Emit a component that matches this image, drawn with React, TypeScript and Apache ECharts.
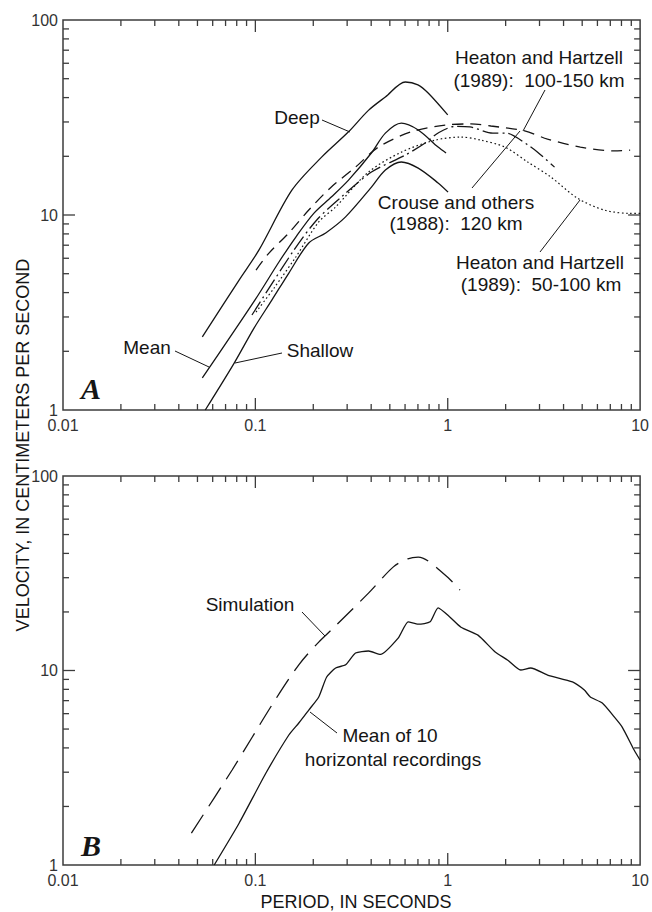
import React, { useEffect, useRef } from "react";
import * as echarts from "echarts";

// ---------- tick labels ----------
const xTickLabels = ["0.01", "0.1", "1", "10"];
const yTickLabels = ["1", "10", "100"];
const xMinorTicks = [0.02, 0.03, 0.04, 0.05, 0.06, 0.07, 0.08, 0.09, 0.2, 0.3, 0.4, 0.5, 0.6, 0.7, 0.8, 0.9, 2, 3, 4, 5, 6, 7, 8, 9];
const xMajorTicks = [0.1, 1];
const yMinorTicks = [2, 3, 4, 5, 6, 7, 8, 9, 20, 30, 40, 50, 60, 70, 80, 90];
const yMajorTicks = [10];

// ---------- Panel A ----------
const deepX = [0.053, 0.0823, 0.1043, 0.1548, 0.221, 0.305, 0.387, 0.474, 0.602, 0.7, 0.791, 1.0];
const deepY = [2.37, 4.64, 6.6, 13.4, 19.8, 26.7, 34.4, 40.3, 48.1, 46.5, 42.2, 32.6];

const meanX = [0.053, 0.0996, 0.1326, 0.1623, 0.2012, 0.249, 0.305, 0.401, 0.474, 0.574, 0.7025, 0.891, 0.98];
const meanY = [1.46, 3.67, 5.74, 7.71, 10.2, 12.4, 15.1, 20.8, 26.3, 29.6, 27.3, 22.3, 20.8];

const shallowX = [0.0549, 0.0776, 0.0984, 0.122, 0.1493, 0.1895, 0.2321, 0.2944, 0.4013, 0.4742, 0.5737, 0.7025, 0.891, 1.004];
const shallowY = [1.0, 1.74, 2.63, 3.67, 5.04, 7.19, 8.09, 9.78, 13.9, 17.0, 18.7, 17.4, 14.6, 13.1];

const hh150X = [0.1008, 0.1177, 0.1493, 0.1895, 0.246, 0.3317, 0.4362, 0.646, 0.969, 1.321, 1.676, 2.512, 3.304, 4.894, 7.337, 8.877];
const hh150Y = [5.22, 6.38, 8.09, 10.6, 13.8, 17.6, 22.3, 26.7, 28.9, 29.3, 28.6, 27.0, 24.5, 22.3, 21.3, 21.5];

const crouseX = [0.096, 0.1585, 0.2085, 0.2808, 0.4013, 0.602, 0.7636, 0.9, 1.1, 1.305, 1.716, 2.004, 2.603, 2.933, 3.591];
const crouseY = [3.07, 6.6, 9.43, 12.4, 16.6, 20.3, 23.4, 26.5, 28.5, 28.3, 26.3, 26.3, 22.9, 21.0, 17.6];

const hh100X = [0.1008, 0.125, 0.1623, 0.2135, 0.2614, 0.3873, 0.5737, 0.86, 1.172, 1.487, 1.981, 2.603, 3.423, 4.723, 6.514, 8.877, 10];
const hh100Y = [3.18, 4.22, 6.09, 9.21, 11.0, 16.6, 21.0, 24.2, 25.1, 24.2, 22.3, 18.7, 15.7, 12.2, 10.6, 10.2, 10.2];

// ---------- Panel B ----------
const simX = [0.0465, 0.0757, 0.122, 0.1682, 0.2135, 0.249, 0.3873, 0.5217, 0.62, 0.7025, 0.969, 1.158];
const simY = [1.46, 3.08, 6.65, 10.7, 14.0, 16.2, 25.0, 34.1, 37.5, 38.3, 31.0, 25.9];

const mean10X = [0.0611, 0.0823, 0.1135, 0.1493, 0.1682, 0.1895, 0.2135, 0.2348, 0.2614, 0.2944, 0.3317, 0.3873, 0.4467, 0.5535, 0.6234, 0.7025, 0.81, 0.891, 1.028, 1.172, 1.436, 1.758, 2.052, 2.395, 2.699, 3.304, 4.45, 5.13, 5.51, 6.36, 7.34, 8.07, 9.31, 10];
const mean10Y = [1.0, 1.64, 2.97, 4.66, 5.37, 6.26, 7.31, 9.26, 10.3, 10.7, 12.3, 12.6, 12.1, 14.7, 17.8, 17.3, 17.8, 21.0, 18.8, 16.7, 15.2, 12.5, 11.3, 10.06, 10.3, 9.48, 8.73, 7.93, 7.31, 6.8, 5.77, 5.12, 3.9, 3.46];

const zip = (xs: number[], ys: number[]) => xs.map((x, i) => [x, ys[i]]);

const INK = "#151515";
const AXIS = "#3c3c3c";
const LABEL_FONT = "'Liberation Sans Narrow', 'Arial Narrow', 'Liberation Sans', sans-serif";
const TEXT_FONT = "'Liberation Sans', Arial, sans-serif";

function tickData() {
  const items: number[][] = [];
  xMinorTicks.forEach((v) => { items.push([v, 1, 0, 6]); items.push([v, 100, 1, 6]); });
  xMajorTicks.forEach((v) => { items.push([v, 1, 0, 12]); items.push([v, 100, 1, 12]); });
  yMinorTicks.forEach((v) => { items.push([0.01, v, 2, 6]); items.push([10, v, 3, 6]); });
  yMajorTicks.forEach((v) => { items.push([0.01, v, 2, 12]); items.push([10, v, 3, 12]); });
  return items;
}

function labelFor(list: string[]) {
  return (v: number) => {
    const hit = list.find((l) => Math.abs(Math.log10(+l) - Math.log10(v)) < 1e-6);
    return hit ?? "";
  };
}

export default function App() {
  const ref = useRef<HTMLDivElement>(null);

  useEffect(() => {
    const chart = echarts.init(ref.current!, null, { renderer: "svg" });

    const xAxisBase = (gridIndex: number) => ({
      gridIndex,
      type: "log",
      logBase: 10,
      min: 0.01,
      max: 10,
      axisLine: { show: false },
      axisTick: { show: false },
      splitLine: { show: false },
      axisLabel: {
        formatter: labelFor(xTickLabels),
        fontSize: 16,
        lineHeight: 13,
        color: "#333",
        margin: 9,
        fontFamily: LABEL_FONT,
      },
    });
    const yAxisBase = (gridIndex: number) => ({
      gridIndex,
      type: "log",
      logBase: 10,
      min: 1,
      max: 100,
      axisLine: { show: false },
      axisTick: { show: false },
      splitLine: { show: false },
      axisLabel: {
        formatter: labelFor(yTickLabels),
        fontSize: 16,
        lineHeight: 13,
        color: "#333",
        margin: 5,
        fontFamily: LABEL_FONT,
      },
    });

    const lineSeries = (name: string, idx: number, data: number[][], type: any, smooth = 0.3, width = 1.3) => ({
      name,
      type: "line",
      xAxisIndex: idx,
      yAxisIndex: idx,
      data,
      showSymbol: false,
      smooth,
      silent: true,
      lineStyle: { color: INK, width, type },
    });

    const tickSeries = (idx: number) => ({
      type: "custom",
      xAxisIndex: idx,
      yAxisIndex: idx,
      data: tickData(),
      clip: false,
      silent: true,
      renderItem: (_p: any, api: any) => {
        const p = api.coord([api.value(0), api.value(1)]);
        const side = api.value(2);
        const len = api.value(3);
        let x2 = p[0];
        let y2 = p[1];
        if (side === 0) y2 -= len;
        else if (side === 1) y2 += len;
        else if (side === 2) x2 += len;
        else x2 -= len;
        return {
          type: "line",
          shape: { x1: p[0], y1: p[1], x2, y2 },
          style: { stroke: AXIS, lineWidth: 1.3 },
        };
      },
    });

    const txt = (text: string, x: number, y: number, align = "center", extra: any = {}) => ({
      type: "text",
      x,
      y,
      silent: true,
      style: {
        text,
        fill: INK,
        font: `19px ${TEXT_FONT}`,
        textAlign: align,
        textVerticalAlign: "middle",
        ...extra,
      },
    });
    const lead = (x1: number, y1: number, x2: number, y2: number) => ({
      type: "line",
      silent: true,
      shape: { x1, y1, x2, y2 },
      style: { stroke: INK, lineWidth: 1 },
    });

    const option: any = {
      animation: false,
      backgroundColor: "#fff",
      grid: [
        { left: 63, top: 20, width: 580, height: 390, show: true, borderColor: AXIS, borderWidth: 1.5, backgroundColor: "transparent" },
        { left: 63, top: 476, width: 580, height: 389, show: true, borderColor: AXIS, borderWidth: 1.5, backgroundColor: "transparent" },
      ],
      xAxis: [xAxisBase(0), xAxisBase(1)],
      yAxis: [yAxisBase(0), yAxisBase(1)],
      series: [
        tickSeries(0),
        tickSeries(1),
        lineSeries("Deep", 0, zip(deepX, deepY), "solid"),
        lineSeries("Mean", 0, zip(meanX, meanY), "solid"),
        lineSeries("Shallow", 0, zip(shallowX, shallowY), "solid"),
        lineSeries("Heaton and Hartzell (1989): 100-150 km", 0, zip(hh150X, hh150Y), [11, 7]),
        lineSeries("Crouse and others (1988): 120 km", 0, zip(crouseX, crouseY), [16, 4, 2, 4]),
        lineSeries("Heaton and Hartzell (1989): 50-100 km", 0, zip(hh100X, hh100Y), [1.6, 2.6], 0.3, 1.2),
        lineSeries("Simulation", 1, zip(simX, simY), [22, 10]),
        lineSeries("Mean of 10 horizontal recordings", 1, zip(mean10X, mean10Y), "solid", 0.2),
      ],
      graphic: [
        // Panel A annotations
        txt("Deep", 297, 117),
        lead(322, 120, 350, 132),
        txt("Mean", 147, 347),
        lead(175, 351, 209, 367),
        txt("Shallow", 320, 350),
        lead(235, 363, 282, 353),
        txt("Heaton and Hartzell", 539, 57),
        txt("(1989):  100-150 km", 539, 80),
        lead(545, 90, 523, 131),
        txt("Crouse and others", 456, 202),
        txt("(1988):  120 km", 456, 223),
        lead(472, 188, 520, 131),
        txt("Heaton and Hartzell", 540, 262),
        txt("(1989):  50-100 km", 541, 284),
        lead(540, 252, 580, 200),
        txt("A", 81, 388, "left", { font: `bold italic 30px 'Liberation Serif', 'Times New Roman', serif` }),
        // Panel B annotations
        txt("Simulation", 250, 604),
        lead(302, 612, 325, 636),
        txt("Mean of 10", 390, 735),
        txt("horizontal recordings", 393, 759),
        lead(310, 712, 337, 733),
        txt("B", 81, 845, "left", { font: `bold italic 30px 'Liberation Serif', 'Times New Roman', serif` }),
        // Axis titles
        {
          type: "text",
          x: 23,
          y: 445,
          rotation: Math.PI / 2,
          silent: true,
          style: {
            text: "VELOCITY, IN CENTIMETERS PER SECOND",
            fill: INK,
            font: `18px ${TEXT_FONT}`,
            textAlign: "center",
            textVerticalAlign: "middle",
          },
        },
        txt("PERIOD, IN SECONDS", 356, 902, "center", { font: `18px ${TEXT_FONT}` }),
      ],
    };

    chart.setOption(option);
    return () => chart.dispose();
  }, []);

  return (
    <div
      ref={ref}
      style={{ position: "absolute", left: 0, top: 0, width: 652, height: 912, background: "#fff" }}
    />
  );
}
